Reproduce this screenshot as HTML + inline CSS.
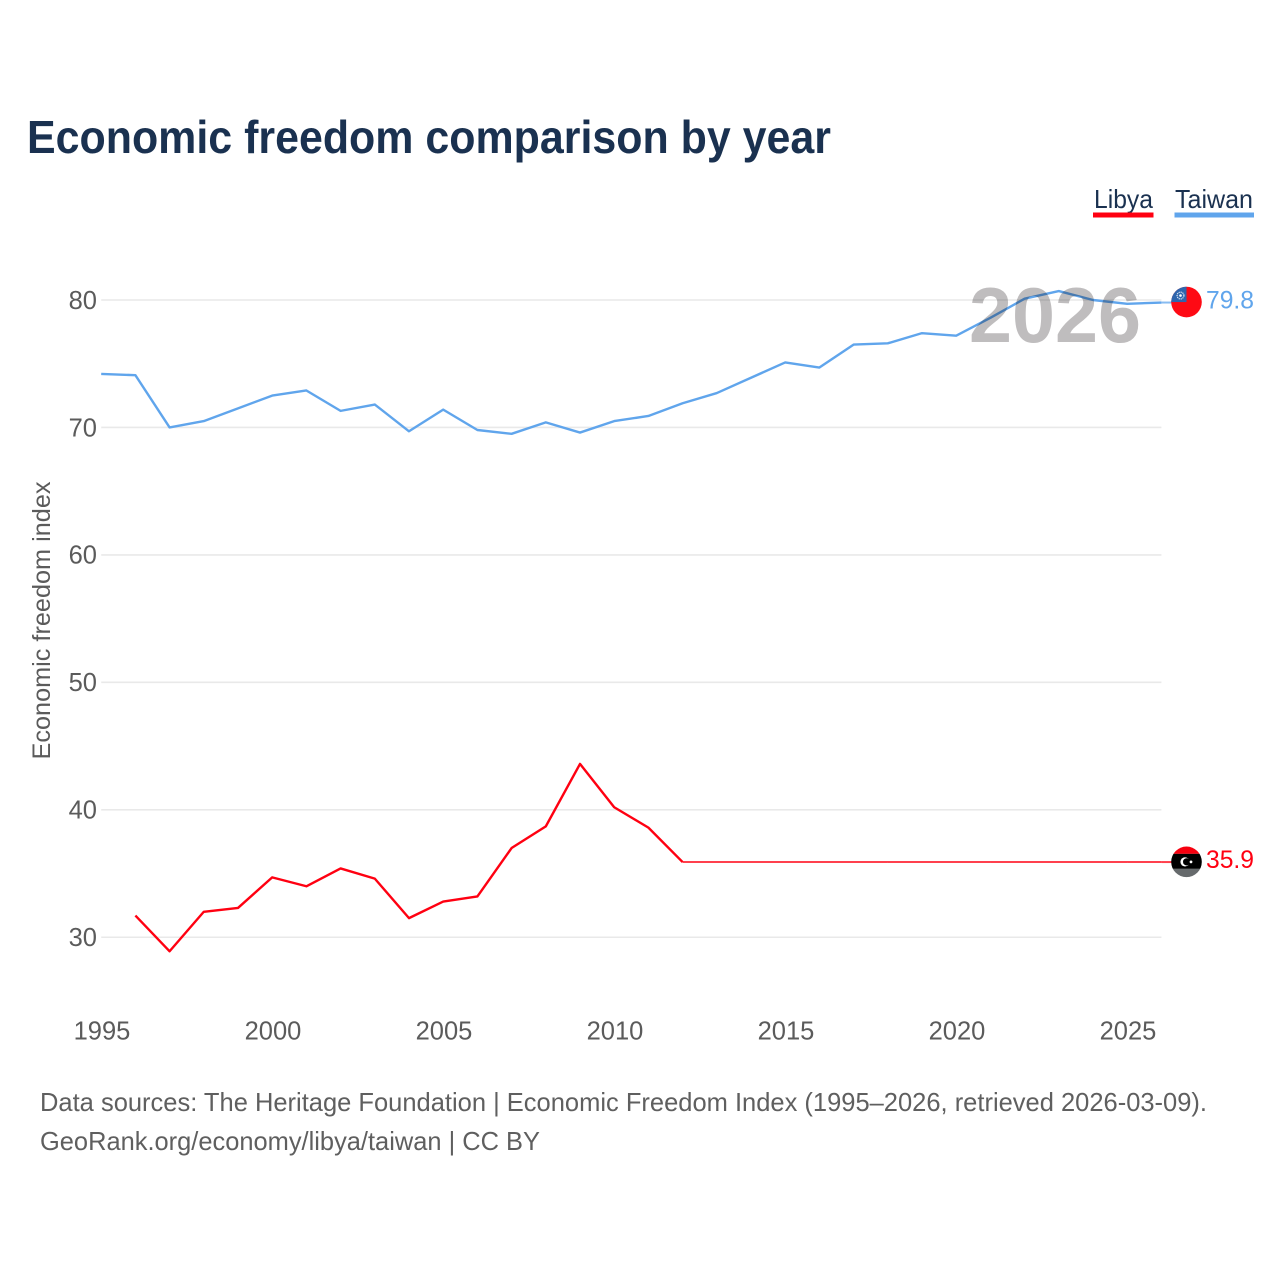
<!DOCTYPE html>
<html lang="en">
<head>
<meta charset="utf-8">
<title>Economic freedom comparison by year</title>
<style>
html,body{margin:0;padding:0;background:#fff;width:1280px;height:1280px;overflow:hidden}
svg{display:block;font-family:"Liberation Sans",sans-serif}
</style>
</head>
<body>
<svg id="chart" width="1280" height="1280" viewBox="0 0 1280 1280" xmlns="http://www.w3.org/2000/svg">
  <defs>
    <clipPath id="flag-clip-taiwan"><circle id="clip-taiwan" r="15.3" cx="1186.5" cy="302"></circle></clipPath>
    <clipPath id="flag-clip-libya"><circle id="clip-libya" r="15.3" cx="1186.5" cy="862"></circle></clipPath>
  </defs>
  <rect x="0" y="0" width="1280" height="1280" fill="#fff"></rect>
  <text x="27" y="153" font-size="46" font-weight="700" fill="#1a3150" textLength="804" lengthAdjust="spacingAndGlyphs">Economic freedom comparison by year</text>
  <g>
    <g>
      <text x="1094" y="208" font-size="26" fill="#1a3150" textLength="59" lengthAdjust="spacingAndGlyphs">Libya</text>
      <rect x="1093" y="212.5" width="60.5" height="5" fill="#ff0011"></rect>
    </g>
    <g>
      <text x="1175" y="208" font-size="26" fill="#1a3150" textLength="78" lengthAdjust="spacingAndGlyphs">Taiwan</text>
      <rect x="1174.5" y="212.5" width="79.5" height="5" fill="#60a5ec"></rect>
    </g>
  </g>
  <g id="grid"></g>
  <g id="y-axis"></g>
  <g id="x-axis"></g>
  <text transform="translate(50,620.5) rotate(-90)" text-anchor="middle" font-size="25" fill="#5b5b5b" textLength="278" lengthAdjust="spacingAndGlyphs">Economic freedom index</text>
  <g id="series"></g>
  <text x="1055" y="342" text-anchor="middle" font-size="78" font-weight="700" fill="#bfbdbe" textLength="172" lengthAdjust="spacingAndGlyphs" style="mix-blend-mode:multiply">2026</text>
  <g id="markers"></g>
  <g>
    <text x="40" y="1111" font-size="26" fill="#5f5f5f" textLength="1167" lengthAdjust="spacingAndGlyphs">Data sources: The Heritage Foundation | Economic Freedom Index (1995–2026, retrieved 2026-03-09).</text>
    <text x="40" y="1150" font-size="26" fill="#5f5f5f" textLength="500" lengthAdjust="spacingAndGlyphs">GeoRank.org/economy/libya/taiwan | CC BY</text>
  </g>
</svg>
<script>
const years = [1995,1996,1997,1998,1999,2000,2001,2002,2003,2004,2005,2006,2007,2008,2009,2010,2011,2012,2013,2014,2015,2016,2017,2018,2019,2020,2021,2022,2023,2024,2025,2026];
const taiwanValues = [74.2,74.1,70.0,70.5,71.5,72.5,72.9,71.3,71.8,69.7,71.4,69.8,69.5,70.4,69.6,70.5,70.9,71.9,72.7,73.9,75.1,74.7,76.5,76.6,77.4,77.2,78.6,80.1,80.7,80.0,79.7,79.8];
const libyaValues = [null,31.7,28.9,32.0,32.3,34.7,34.0,35.4,34.6,31.5,32.8,33.2,37.0,38.7,43.6,40.2,38.6,35.9,35.9,35.9,35.9,35.9,35.9,35.9,35.9,35.9,35.9,35.9,35.9,35.9,35.9,35.9];
const yTickValues = [30,40,50,60,70,80];
const xTickValues = [1995,2000,2005,2010,2015,2020,2025];

const NS = 'http://www.w3.org/2000/svg';
const xScale = function (year) { return 101.2 + (year - 1995) * 34.2; };
const yScale = function (value) { return 300 + (80 - value) * 12.745; };

function make(parent, tag, attrs, text) {
  const el = document.createElementNS(NS, tag);
  for (const key in attrs) el.setAttribute(key, attrs[key]);
  if (text !== undefined) el.textContent = text;
  parent.appendChild(el);
  return el;
}

const grid = document.getElementById('grid');
const yAxis = document.getElementById('y-axis');
const xAxis = document.getElementById('x-axis');
const series = document.getElementById('series');
const markers = document.getElementById('markers');

yTickValues.forEach(function (tick) {
  const line = make(grid, 'line', { x1: xScale(1995), x2: xScale(2026), y1: yScale(tick), y2: yScale(tick), stroke: '#e9e9e9', 'stroke-width': 1.6 });
  
  
  const label = make(yAxis, 'text', { x: 97, y: yScale(tick) + 8.8, 'text-anchor': 'end', 'font-size': 25.5, fill: '#5b5b5b' }, String(tick));
  
  
});

xTickValues.forEach(function (tick) {
  const label = make(xAxis, 'text', { x: xScale(tick) + 0.8, y: 1039.5, 'text-anchor': 'middle', 'font-size': 25.5, fill: '#5b5b5b' }, String(tick));
  
  
});

function point(i, values) {
  return xScale(years[i]).toFixed(2) + ' ' + yScale(values[i]).toFixed(2);
}

function movingPath(values) {
  let d = '';
  let pen = false;
  for (let i = 0; i < values.length - 1; i++) {
    if (values[i] === null || values[i + 1] === null || values[i] === values[i + 1]) { pen = false; continue; }
    if (!pen) d += 'M' + point(i, values);
    d += 'L' + point(i + 1, values);
    pen = true;
  }
  return d;
}

function flatPath(values) {
  let d = '';
  for (let i = 0; i < values.length - 1; i++) {
    if (values[i] !== null && values[i] === values[i + 1]) d += 'M' + point(i, values) + 'L' + point(i + 1, values);
  }
  return d;
}

function drawSeries(name, values, color) {
  const path = make(series, 'path', { d: movingPath(values), fill: 'none', stroke: color, 'stroke-width': 2.4, 'stroke-linejoin': 'round' });
  
  
  const flat = make(series, 'path', { d: flatPath(values), fill: 'none', stroke: color, 'stroke-width': 2, 'stroke-opacity': 0.75 });
  
  
  const last = values[values.length - 1];
  const connector = make(series, 'line', { x1: xScale(2026), x2: 1172, y1: yScale(last), y2: yScale(last), stroke: color, 'stroke-width': 2, 'stroke-opacity': 0.75 });
  
  
  const label = make(markers, 'text', { x: 1254, y: yScale(last) + 6, 'text-anchor': 'end', 'font-size': 25, fill: color, textLength: 48, lengthAdjust: 'spacingAndGlyphs' }, last.toFixed(1));
  
  
}

drawSeries('libya', libyaValues, '#ff0011');
drawSeries('taiwan', taiwanValues, '#60a5ec');

const taiwanY = yScale(taiwanValues[taiwanValues.length - 1]) - 0.5;
const libyaY = yScale(libyaValues[libyaValues.length - 1]) - 0.2;
document.getElementById('clip-taiwan').setAttribute('cy', taiwanY);
document.getElementById('clip-libya').setAttribute('cy', libyaY);

const taiwanFlag = make(markers, 'g', { 'clip-path': 'url(#flag-clip-taiwan)' });


make(taiwanFlag, 'rect', { x: 1171, y: taiwanY - 16, width: 31, height: 32, fill: '#fe0a14' });
make(taiwanFlag, 'rect', { x: 1171, y: taiwanY - 16, width: 15.5, height: 16, fill: '#2f66ad' });
make(taiwanFlag, 'circle', { cx: 1180.5, cy: taiwanY - 6.5, r: 3.4, fill: 'none', stroke: '#dfe8f4', 'stroke-width': 1.2, 'stroke-dasharray': '1.2 0.8' });
make(taiwanFlag, 'circle', { cx: 1180.5, cy: taiwanY - 6.5, r: 1.3, fill: '#ffffff' });

const libyaFlag = make(markers, 'g', { 'clip-path': 'url(#flag-clip-libya)' });


make(libyaFlag, 'rect', { x: 1171, y: libyaY - 16, width: 31, height: 8, fill: '#f6000f' });
make(libyaFlag, 'rect', { x: 1171, y: libyaY - 8, width: 31, height: 15, fill: '#000000' });
make(libyaFlag, 'rect', { x: 1171, y: libyaY + 7, width: 31, height: 9, fill: '#666a6c' });
make(libyaFlag, 'circle', { cx: 1185, cy: libyaY, r: 4.6, fill: '#ffffff' });
make(libyaFlag, 'circle', { cx: 1186.6, cy: libyaY, r: 3.6, fill: '#000000' });
make(libyaFlag, 'circle', { cx: 1191, cy: libyaY, r: 1.4, fill: '#ffffff' });
</script>
</body>
</html>
